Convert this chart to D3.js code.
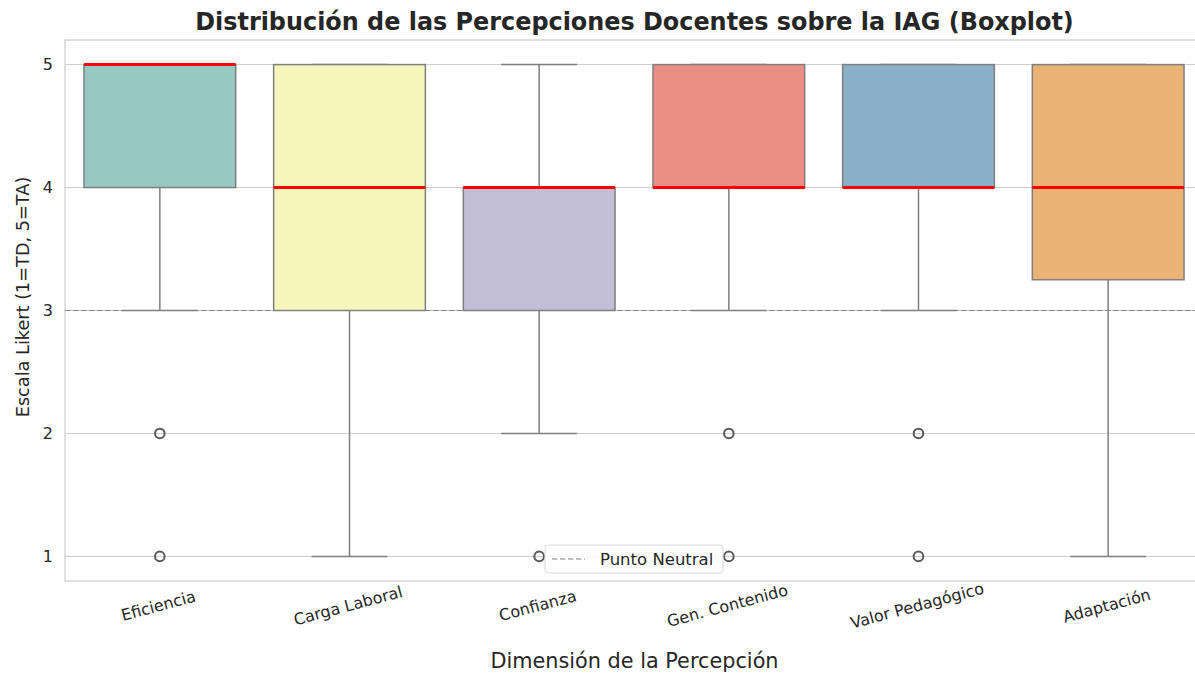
<!DOCTYPE html>
<html>
<head>
<meta charset="utf-8">
<script src="https://cdn.jsdelivr.net/npm/d3@7"></script>
<style>
  body { margin: 0; background: #fff; }
  svg { font-family: "DejaVu Sans", sans-serif; }
</style>
</head>
<body>
<script>
// data
const categories = ["Eficiencia", "Carga Laboral", "Confianza", "Gen. Contenido", "Valor Pedagógico", "Adaptación"];
const q1Values = [4, 3, 3, 4, 4, 3.25];
const medianValues = [5, 4, 4, 4, 4, 4];
const q3Values = [5, 5, 4, 5, 5, 5];
const whiskerLow = [3, 1, 2, 3, 3, 1];
const whiskerHigh = [5, 5, 5, 5, 5, 5];
const outlierValues = [[2, 1], [], [1], [2, 1], [2, 1], []];
const boxColors = ["#96cac1", "#f6f6bc", "#c1bed6", "#ea8e83", "#8aafc9", "#eab375"];
const yTicks = [1, 2, 3, 4, 5];
const neutralValue = 3;

let w = 1195, h = 673;
let pLeft = 65, pRight = 1203, pTop = 40, pBottom = 581;

let svg = d3.select('body').append('svg')
    .attr('width', w)
    .attr('height', h);

let x = d3.scaleBand()
    .domain(categories)
    .range([pLeft, pRight])
    .paddingInner(0)
    .paddingOuter(0);

let y = d3.scaleLinear()
    .domain([0.8, 5.2])
    .range([pBottom, pTop]);

// grid
svg.append('g')
    .selectAll('line')
    .data(yTicks)
    .enter().append('line')
    .attr('x1', pLeft).attr('x2', pRight)
    .attr('y1', d => y(d)).attr('y2', d => y(d))
    .attr('stroke', '#cccccc')
    .attr('stroke-width', 1);

// frame
svg.append('rect')
    .attr('x', pLeft).attr('y', pTop)
    .attr('width', pRight - pLeft).attr('height', pBottom - pTop)
    .attr('fill', 'none')
    .attr('stroke', '#cccccc')
    .attr('stroke-width', 1.2);

// y axis
let yAxis = svg.append('g')
    .attr('transform', `translate(${pLeft},0)`)
    .call(d3.axisLeft(y).tickValues(yTicks).tickFormat(d3.format('d')).tickSize(0).tickPadding(12));
yAxis.select('.domain').remove();
yAxis.selectAll('text')
    .style('font-size', '16px')
    .style('font-family', '"DejaVu Sans", sans-serif')
    .attr('fill', '#262626');

// x axis
let xAxis = svg.append('g')
    .attr('transform', `translate(0,${pBottom})`)
    .call(d3.axisBottom(x).tickSize(0).tickPadding(0));
xAxis.select('.domain').remove();
xAxis.selectAll('text')
    .style('font-size', '16px')
    .style('font-family', '"DejaVu Sans", sans-serif')
    .attr('fill', '#262626')
    .attr('text-anchor', 'middle')
    .attr('dy', 0)
    .attr('y', 0)
    .attr('transform', 'translate(0,30) rotate(-15)');

let boxW = x.bandwidth() * 0.8;
let capW = boxW / 2;
let lineCol = '#7f7f7f';

let groups = svg.append('g')
    .selectAll('g')
    .data(categories)
    .enter().append('g')
    .attr('transform', d => `translate(${x(d) + x.bandwidth() / 2},0)`);

// whiskers
groups.append('line')
    .attr('x1', 0).attr('x2', 0)
    .attr('y1', (d, i) => y(whiskerLow[i])).attr('y2', (d, i) => y(q1Values[i]))
    .attr('stroke', lineCol).attr('stroke-width', 1.5);
groups.append('line')
    .attr('x1', 0).attr('x2', 0)
    .attr('y1', (d, i) => y(whiskerHigh[i])).attr('y2', (d, i) => y(q3Values[i]))
    .attr('stroke', lineCol).attr('stroke-width', 1.5);
groups.append('line')
    .attr('x1', -capW / 2).attr('x2', capW / 2)
    .attr('y1', (d, i) => y(whiskerLow[i])).attr('y2', (d, i) => y(whiskerLow[i]))
    .attr('stroke', lineCol).attr('stroke-width', 1.5);
groups.append('line')
    .attr('x1', -capW / 2).attr('x2', capW / 2)
    .attr('y1', (d, i) => y(whiskerHigh[i])).attr('y2', (d, i) => y(whiskerHigh[i]))
    .attr('stroke', lineCol).attr('stroke-width', 1.5);

// boxes
groups.append('rect')
    .attr('x', -boxW / 2)
    .attr('width', boxW)
    .attr('y', (d, i) => y(q3Values[i]))
    .attr('height', (d, i) => y(q1Values[i]) - y(q3Values[i]))
    .attr('fill', (d, i) => boxColors[i])
    .attr('stroke', lineCol)
    .attr('stroke-width', 1.5);

// medians
groups.append('line')
    .attr('x1', -boxW / 2).attr('x2', boxW / 2)
    .attr('y1', (d, i) => y(medianValues[i])).attr('y2', (d, i) => y(medianValues[i]))
    .attr('stroke', '#ff0000').attr('stroke-width', 3);

// outliers
groups.selectAll('circle')
    .data((d, i) => outlierValues[i])
    .enter().append('circle')
    .attr('cx', 0)
    .attr('cy', d => y(d))
    .attr('r', 4.8)
    .attr('fill', 'none')
    .attr('stroke', '#5a5a5a')
    .attr('stroke-width', 2);

// neutral line
svg.append('line')
    .attr('x1', pLeft).attr('x2', pRight)
    .attr('y1', y(neutralValue)).attr('y2', y(neutralValue))
    .attr('stroke', '#808080')
    .attr('stroke-width', 1.2)
    .attr('stroke-dasharray', '5.5,2.5');

// legend
let lg = svg.append('g').attr('transform', 'translate(545,545)');
lg.append('rect')
    .attr('width', 178).attr('height', 28).attr('rx', 3)
    .attr('fill', 'white').attr('fill-opacity', 0.8)
    .attr('stroke', '#d9d9d9');
lg.append('line')
    .attr('x1', 7).attr('x2', 40).attr('y1', 14).attr('y2', 14)
    .attr('stroke', '#808080').attr('stroke-width', 1.2)
    .attr('stroke-dasharray', '5.5,2.5');
lg.append('text')
    .attr('x', 55).attr('y', 20)
    .style('font-size', '16.5px')
    .attr('fill', '#262626')
    .text('Punto Neutral');

// titles
svg.append('text')
    .attr('x', 634.5)
    .attr('y', 30)
    .attr('text-anchor', 'middle')
    .style('font-size', '23.9px')
    .style('font-weight', 'bold')
    .attr('fill', '#262626')
    .text('Distribución de las Percepciones Docentes sobre la IAG (Boxplot)');

svg.append('text')
    .attr('x', 634.5)
    .attr('y', 668)
    .attr('text-anchor', 'middle')
    .style('font-size', '20.8px')
    .attr('fill', '#262626')
    .text('Dimensión de la Percepción');

svg.append('text')
    .attr('transform', 'translate(29,297) rotate(-90)')
    .attr('text-anchor', 'middle')
    .style('font-size', '17.7px')
    .attr('fill', '#262626')
    .text('Escala Likert (1=TD, 5=TA)');
</script>
</body>
</html>
